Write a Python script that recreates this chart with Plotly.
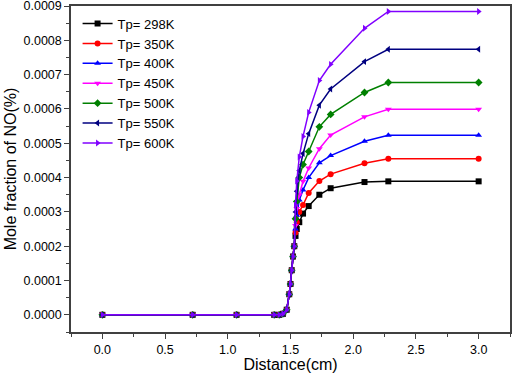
import plotly.graph_objects as go

distance = [0.0, 0.72, 1.07, 1.37, 1.41, 1.44, 1.47, 1.49, 1.50, 1.51, 1.52, 1.53,
            1.54, 1.55, 1.57, 1.60, 1.645, 1.73, 1.82, 2.09, 2.28, 3.0]

base = [0, 0, 0, 0, 0, 0.000003, 0.000015, 0.00006, 0.00009, 0.00013, 0.00017, 0.00020]

no_298 = base + [0.00023, 0.00025, 0.00027, 0.000295, 0.000317, 0.00035, 0.000369, 0.000387, 0.000389, 0.000389]
no_350 = base + [0.00024, 0.00027, 0.00030, 0.00032, 0.000355, 0.00039, 0.00041, 0.000442, 0.000455, 0.000455]
no_400 = base + [0.00025, 0.00029, 0.000335, 0.000364, 0.00040, 0.000443, 0.000464, 0.000506, 0.000523, 0.000523]
no_450 = base + [0.00026, 0.00031, 0.00035, 0.000389, 0.000428, 0.000484, 0.000524, 0.000577, 0.000599, 0.000599]
no_500 = base + [0.00028, 0.00033, 0.00040, 0.000438, 0.000476, 0.000548, 0.000584, 0.000648, 0.000677, 0.000677]
no_550 = base + [0.00030, 0.00036, 0.00042, 0.00047, 0.000528, 0.000611, 0.000658, 0.000738, 0.000774, 0.000774]
no_600 = base + [0.00032, 0.00039, 0.00046, 0.00052, 0.00059, 0.000683, 0.00073, 0.000835, 0.000884, 0.000884]

labels = ["Tp= 298K", "Tp= 350K", "Tp= 400K", "Tp= 450K", "Tp= 500K", "Tp= 550K", "Tp= 600K"]
series = [no_298, no_350, no_400, no_450, no_500, no_550, no_600]
colors = ["#000000", "#FF0000", "#0000FF", "#FF00FF", "#008000", "#000080", "#8000FF"]
symbols = ["square", "circle", "triangle-up", "triangle-down", "diamond", "triangle-left", "triangle-right"]

fig = go.Figure()
for lab, ys, c, s in zip(labels, series, colors, symbols):
    fig.add_trace(go.Scatter(
        x=distance, y=ys, name=lab, mode="lines+markers",
        line=dict(color=c, width=1.5),
        marker=dict(symbol=s, size=6, color=c),
    ))

fig.update_layout(
    width=512, height=373,
    margin=dict(l=71, r=2, t=6, b=41),
    paper_bgcolor="white", plot_bgcolor="white",
    font=dict(family="Liberation Sans, Arial, sans-serif", size=12, color="black"),
    showlegend=True,
    legend=dict(x=0.015, y=0.992, xanchor="left", yanchor="top",
                bgcolor="rgba(0,0,0,0)", font=dict(size=13),
                itemwidth=30, tracegroupgap=0),
)
fig.update_xaxes(
    range=[-0.25, 3.25], dtick=0.5, tick0=0, tickformat=".1f",
    showgrid=False, zeroline=False, automargin=False, ticklabeloverflow="allow",
    showline=True, linecolor="#404040", linewidth=1.5, mirror=True,
    ticks="outside", ticklen=5, tickwidth=1.2, tickcolor="#404040",
    minor=dict(ticks="outside", ticklen=3, dtick=0.25, tick0=0, tickcolor="#404040"),
    title=dict(text="Distance(cm)", font=dict(size=16), standoff=0),
    tickfont=dict(size=12.5),
)
fig.update_yaxes(
    range=[-0.00005, 0.0009000001], dtick=0.0001, tick0=0, tickformat=".4f",
    showgrid=False, zeroline=False, automargin=False, ticklabeloverflow="allow",
    showline=True, linecolor="#404040", linewidth=1.5, mirror=True,
    ticks="outside", ticklen=5, tickwidth=1.2, tickcolor="#404040",
    minor=dict(ticks="outside", ticklen=3, dtick=0.00005, tick0=0, tickcolor="#404040"),
    title=dict(text="Mole fraction of NO(%)", font=dict(size=16), standoff=3),
    tickfont=dict(size=12.5),
)

fig.write_html("out.html", config={"displayModeBar": False},
               post_script="document.body.style.margin='0';")
